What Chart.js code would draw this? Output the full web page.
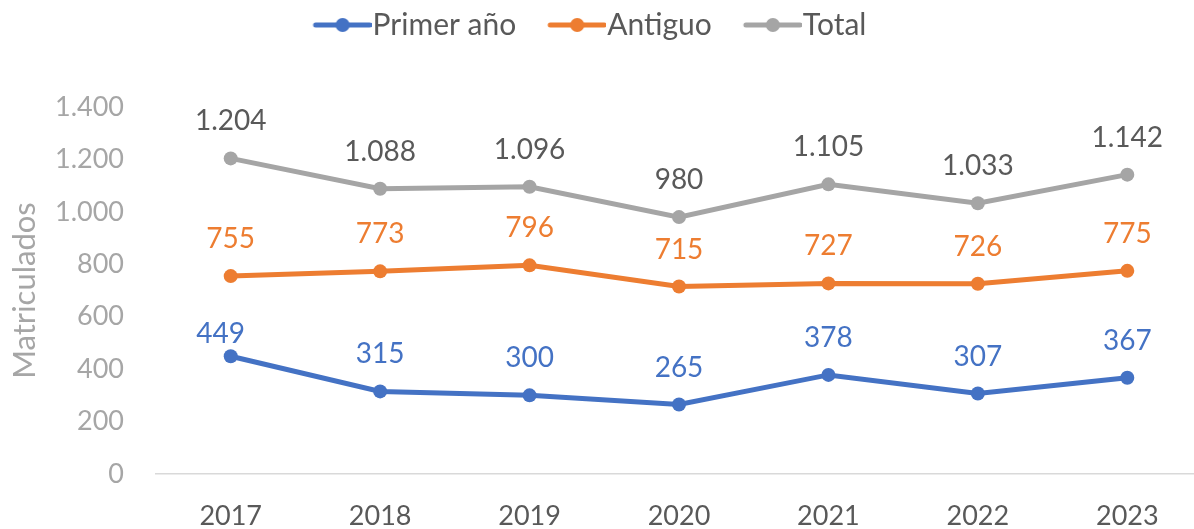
<!DOCTYPE html>
<html>

<head>
    <title>Matriculados</title>
    <script src="https://cdn.jsdelivr.net/npm/chart.js"></script>
    <style type="text/css">
        html, body {
            margin: 0;
            padding: 0;
            background: #ffffff;
            overflow: hidden;
        }
        canvas {
            display: block;
        }
    </style>
</head>

<body>
    <canvas id="myChart" width="1194" height="529"></canvas>

    <script>
        const years = ['2017', '2018', '2019', '2020', '2021', '2022', '2023'];
        const primerAnio = [449, 315, 300, 265, 378, 307, 367];
        const antiguo = [755, 773, 796, 715, 727, 726, 775];
        const total = [1204, 1088, 1096, 980, 1105, 1033, 1142];
        const yTicks = [0, 200, 400, 600, 800, 1000, 1200, 1400];

        const blue = '#4472C4';
        const orange = '#ED7D31';
        const gray = '#A5A5A5';
        const FONT = 'Lato';

        // miles con punto: 1204 -> 1.204
        function miles(v) {
            return String(v).replace(/\B(?=(\d{3})+(?!\d))/g, '.');
        }

        // marcador de leyenda: linea con punto, estilo Excel
        function legendMark(color) {
            const c = document.createElement('canvas');
            c.width = 94;
            c.height = 18;
            const g = c.getContext('2d');
            g.strokeStyle = color;
            g.lineWidth = 5;
            g.lineCap = 'round';
            g.beginPath();
            g.moveTo(38, 9);
            g.lineTo(92, 9);
            g.stroke();
            g.fillStyle = color;
            g.beginPath();
            g.arc(65, 9, 7, 0, Math.PI * 2);
            g.fill();
            return c;
        }

        // etiquetas de valor sobre cada punto
        const valueLabels = {
            id: 'valueLabels',
            afterDatasetsDraw(chart) {
                const ctx = chart.ctx;
                ctx.save();
                ctx.font = '28px ' + FONT;
                ctx.textAlign = 'center';
                ctx.textBaseline = 'middle';
                chart.data.datasets.forEach((ds, i) => {
                    const meta = chart.getDatasetMeta(i);
                    ctx.fillStyle = ds.labelColor;
                    meta.data.forEach((pt, j) => {
                        let dx = 0, dy = -37;
                        // la etiqueta 449 esta corrida para no chocar con la linea naranja
                        if (i === 0 && j === 0) { dx = -10; dy = -22; }
                        ctx.fillText(miles(ds.data[j]), pt.x + dx, pt.y + dy);
                    });
                });
                ctx.restore();
            }
        };

        // espacio bajo la leyenda, ajuste horizontal y area que sigue un poco fuera del borde derecho
        const layoutTweaks = {
            id: 'layoutTweaks',
            beforeInit(chart) {
                const fit = chart.legend.fit;
                chart.legend.fit = function () {
                    fit.bind(chart.legend)();
                    this.height += 57;
                };
            },
            afterLayout(chart) {
                chart.legend.left -= 18;
                chart.legend.right -= 18;
                const x = chart.scales.x;
                x.right += 8;
                x.width += 8;
                x.configure();
                chart.chartArea.right += 8;
                chart.chartArea.width += 8;
            }
        };

        function makeSet(label, data, color, labelColor) {
            return {
                label: label,
                data: data,
                borderColor: color,
                backgroundColor: color,
                borderWidth: 5,
                pointRadius: 7,
                pointHoverRadius: 7,
                pointBorderWidth: 0,
                pointBackgroundColor: color,
                tension: 0,
                labelColor: labelColor,
                legendImg: legendMark(color)
            };
        }

        var ctx = document.getElementById('myChart').getContext('2d');
        var myChart = new Chart(ctx, {
            type: 'line',
            data: {
                labels: years,
                datasets: [
                    makeSet('Primer año', primerAnio, blue, blue),
                    makeSet('Antiguo', antiguo, orange, orange),
                    makeSet('Total', total, gray, '#595959')
                ]
            },
            plugins: [valueLabels, layoutTweaks],
            options: {
                responsive: false,
                animation: false,
                layout: {
                    autoPadding: false,
                    padding: 0
                },
                plugins: {
                    tooltip: { enabled: false },
                    legend: {
                        position: 'top',
                        labels: {
                            usePointStyle: true,
                            pointStyleWidth: 66,
                            padding: 10,
                            color: '#595959',
                            font: { family: FONT, size: 30 },
                            generateLabels(chart) {
                                return chart.data.datasets.map((ds, i) => ({
                                    text: ds.label,
                                    pointStyle: ds.legendImg,
                                    fillStyle: ds.borderColor,
                                    strokeStyle: ds.borderColor,
                                    lineWidth: 0,
                                    fontColor: '#595959',
                                    hidden: false,
                                    datasetIndex: i
                                }));
                            }
                        }
                    }
                },
                scales: {
                    x: {
                        offset: true,
                        grid: { display: false, drawTicks: false },
                        border: { display: true, color: '#D9D9D9', width: 1.5 },
                        ticks: {
                            color: '#595959',
                            padding: 26,
                            font: { family: FONT, size: 27 }
                        },
                        afterFit(scale) { scale.height = 55; }
                    },
                    y: {
                        min: 0,
                        max: 1400,
                        afterBuildTicks(scale) {
                            scale.ticks = yTicks.map(v => ({ value: v }));
                        },
                        grid: { display: false, drawTicks: false },
                        border: { display: false },
                        ticks: {
                            color: '#A6A6A6',
                            padding: 32,
                            font: { family: FONT, size: 27 },
                            callback: v => miles(v)
                        },
                        title: {
                            display: true,
                            text: 'Matriculados',
                            color: '#A6A6A6',
                            padding: { top: 6, bottom: 0 },
                            font: { family: FONT, size: 31 }
                        },
                        afterFit(scale) { scale.width = 156; }
                    }
                }
            }
        });
    </script>
</body>

</html>
